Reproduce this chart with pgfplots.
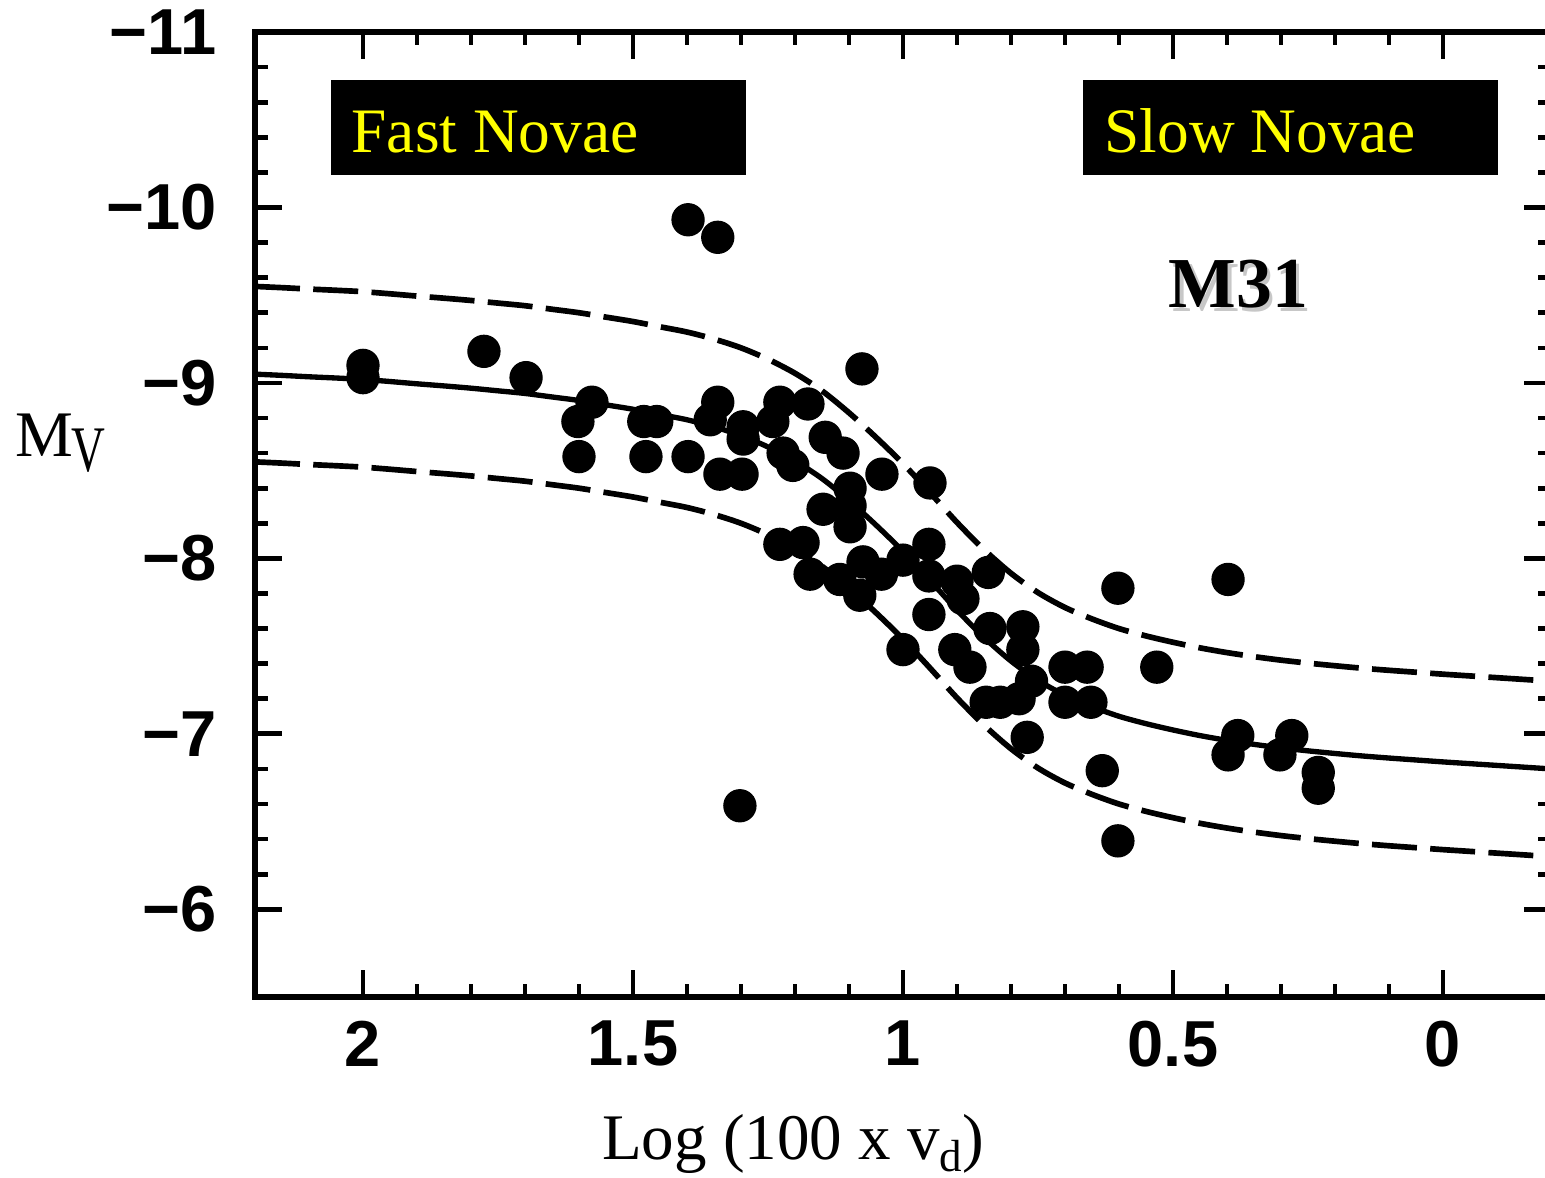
\documentclass[border=0pt]{standalone}
\usepackage{fontspec}
\usepackage{graphicx}
\usepackage{pgfplots}
\pgfplotsset{compat=1.18}
\setmainfont{Liberation Serif}
\newfontfamily\tickfont{Liberation Sans}
\definecolor{novyellow}{RGB}{255,255,0}

\pgfplotstableread{
x y
2.00 -9.10
2.00 -9.03
1.776 -9.18
1.698 -9.03
1.602 -8.78
1.576 -8.89
1.600 -8.58
1.480 -8.78
1.456 -8.78
1.476 -8.58
1.398 -8.58
1.398 -9.93
1.343 -9.83
1.343 -8.89
1.357 -8.79
1.296 -8.75
1.296 -8.68
1.339 -8.48
1.298 -8.48
1.302 -6.59
1.228 -8.89
1.176 -8.88
1.241 -8.78
1.222 -8.60
1.204 -8.53
1.144 -8.69
1.111 -8.60
1.039 -8.48
0.950 -8.43
1.076 -9.08
1.148 -8.28
1.098 -8.40
1.098 -8.30
1.098 -8.18
1.228 -8.08
1.185 -8.09
1.172 -7.91
1.117 -7.88
1.080 -7.79
1.074 -7.98
1.040 -7.91
1.000 -7.99
0.952 -8.08
0.952 -7.90
0.900 -7.87
0.842 -7.92
0.952 -7.68
0.889 -7.77
1.000 -7.48
0.904 -7.48
0.876 -7.38
0.839 -7.60
0.778 -7.61
0.778 -7.48
0.762 -7.30
0.846 -7.18
0.820 -7.18
0.785 -7.20
0.700 -7.38
0.659 -7.38
0.700 -7.18
0.652 -7.18
0.770 -6.98
0.602 -7.83
0.631 -6.79
0.602 -6.39
0.530 -7.38
0.398 -7.88
0.380 -6.99
0.398 -6.88
0.280 -6.99
0.302 -6.88
0.231 -6.78
0.231 -6.69
}\novae

\pgfplotstableread{
x mid up low
2.20 -9.050 -9.550 -8.550
2.15 -9.043 -9.543 -8.543
2.10 -9.035 -9.535 -8.535
2.05 -9.028 -9.528 -8.528
2.00 -9.020 -9.520 -8.520
1.95 -9.008 -9.508 -8.508
1.90 -8.995 -9.495 -8.495
1.85 -8.983 -9.483 -8.483
1.80 -8.970 -9.470 -8.470
1.75 -8.955 -9.455 -8.455
1.70 -8.940 -9.440 -8.440
1.65 -8.920 -9.420 -8.420
1.60 -8.900 -9.400 -8.400
1.55 -8.875 -9.375 -8.375
1.50 -8.850 -9.350 -8.350
1.45 -8.820 -9.320 -8.320
1.40 -8.790 -9.290 -8.290
1.35 -8.750 -9.250 -8.250
1.30 -8.700 -9.200 -8.200
1.25 -8.635 -9.135 -8.135
1.20 -8.555 -9.055 -8.055
1.15 -8.455 -8.955 -7.955
1.10 -8.330 -8.830 -7.830
1.05 -8.190 -8.690 -7.690
1.00 -8.040 -8.540 -7.540
0.95 -7.875 -8.375 -7.375
0.90 -7.705 -8.205 -7.205
0.85 -7.550 -8.050 -7.050
0.80 -7.415 -7.915 -6.915
0.75 -7.305 -7.805 -6.805
0.70 -7.220 -7.720 -6.720
0.65 -7.155 -7.655 -6.655
0.60 -7.100 -7.600 -6.600
0.55 -7.058 -7.558 -6.558
0.50 -7.022 -7.522 -6.522
0.45 -6.990 -7.490 -6.490
0.40 -6.963 -7.463 -6.463
0.35 -6.940 -7.440 -6.440
0.30 -6.920 -7.420 -6.420
0.25 -6.903 -7.403 -6.403
0.20 -6.888 -7.388 -6.388
0.15 -6.874 -7.374 -6.374
0.10 -6.862 -7.362 -6.362
0.05 -6.851 -7.351 -6.351
0.00 -6.840 -7.340 -6.340
-0.05 -6.830 -7.330 -6.330
-0.10 -6.820 -7.320 -6.320
-0.15 -6.810 -7.310 -6.310
-0.20 -6.800 -7.300 -6.300
}\fit

\begin{document}
\begin{tikzpicture}
\path[use as bounding box] (0,0) rectangle (463.5pt,353.4pt);
\begin{axis}[
  at={(76.5pt,54.3pt)}, anchor=south west,
  scale only axis,
  width=388.8pt, height=289.5pt,
  xmin=-0.2, xmax=2.2,
  ymin=-11, ymax=-5.5,
  x dir=reverse, y dir=reverse,
  axis line style={line width=1.7pt},
  xtick={0,0.5,1,1.5,2},
  xticklabels={0,0.5,1,1.5,2},
  ytick={-11,-10,-9,-8,-7,-6},
  yticklabels={−11,−10,−9,−8,−7,−6},
  minor x tick num=4,
  minor y tick num=4,
  xtick pos=both, ytick pos=both,
  tick align=inside,
  major tick length=8.1pt,
  minor tick length=3.9pt,
  every tick/.style={black, line width=1.4pt},
  tick label style={font=\tickfont\bfseries\fontsize{19.5}{20}\selectfont, inner sep=0pt},
  yticklabel style={anchor=east, xshift=-11.4pt},
  xticklabel style={anchor=north, yshift=-6.9pt},
]
\addplot[black, line width=1.6pt, smooth] table[x=x, y=mid] {\fit};
\addplot[black, line width=1.7pt, smooth, dash pattern=on 13.5pt off 4pt] table[x=x, y=up] {\fit};
\addplot[black, line width=1.7pt, smooth, dash pattern=on 13.5pt off 4pt] table[x=x, y=low] {\fit};
\addplot[only marks, mark=*, mark size=4.8pt, black, mark options={fill=black, draw=black}] table[x=x, y=y] {\novae};
\end{axis}
% labels
\node[anchor=base west, inner sep=0pt, font=\fontsize{19.5}{20}\selectfont] at (4.5pt,216.3pt) {M\kern-0.6pt\raisebox{-4.5pt}{\scalebox{0.72}[1]{V}}};
\node[anchor=base, inner sep=0pt, font=\fontsize{19.5}{20}\selectfont] at (237.9pt,5.6pt) {Log (100 x v\raisebox{-3.8pt}{\fontsize{13.5}{14}\selectfont d})};
% boxes
\fill[black] (99.3pt,300.9pt) rectangle (223.8pt,329.4pt);
\node[anchor=base west, inner sep=0pt, text=novyellow, font=\fontsize{19}{20}\selectfont] at (105.3pt,307.5pt) {Fast Novae};
\fill[black] (324.9pt,300.9pt) rectangle (449.4pt,329.4pt);
\node[anchor=base west, inner sep=0pt, text=novyellow, font=\fontsize{19}{20}\selectfont] at (331.2pt,307.5pt) {Slow Novae};
% M31 with shadow
\node[anchor=base west, inner sep=0pt, text=black!22, font=\bfseries\fontsize{21.5}{22}\selectfont] at (351.4pt,259.9pt) {M31};
\node[anchor=base west, inner sep=0pt, font=\bfseries\fontsize{21.5}{22}\selectfont] at (350.4pt,261pt) {M31};
\end{tikzpicture}
\end{document}
